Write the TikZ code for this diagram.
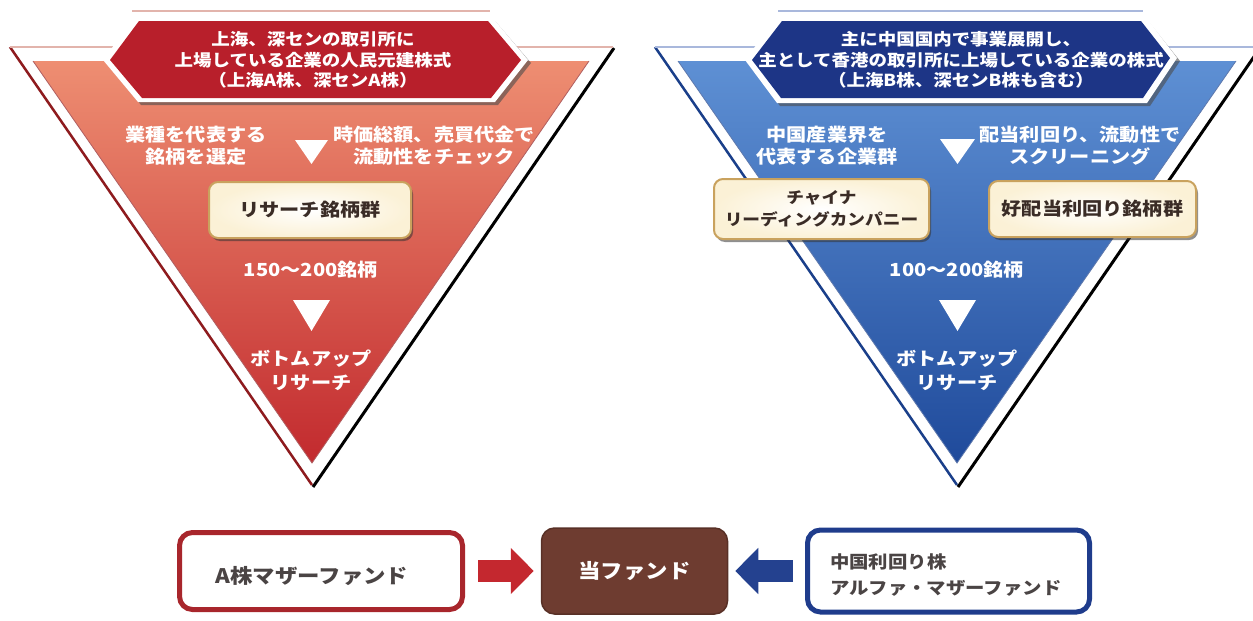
\documentclass[tikz,border=0pt]{standalone}
\usepackage{fontspec}
\setmainfont{Noto Sans CJK JP}
\newfontfamily\jp{Noto Sans CJK JP}[FakeStretch=1.12]
\usetikzlibrary{arrows.meta,shadows}
\definecolor{redTop}{HTML}{EE8E72}
\definecolor{redMid}{HTML}{DD5F4A}
\definecolor{redBot}{HTML}{C22A2E}
\definecolor{redEdge}{HTML}{8E1B1E}
\definecolor{hexRed}{HTML}{B81F2B}
\definecolor{pinkLine}{HTML}{E2B4AC}
\definecolor{blueTop}{HTML}{5E90D4}
\definecolor{blueMid}{HTML}{3A6EBD}
\definecolor{blueBot}{HTML}{1F4A9B}
\definecolor{blueEdge}{HTML}{1A3F8A}
\definecolor{hexBlue}{HTML}{1D3586}
\definecolor{blueLine}{HTML}{A9B8DC}
\definecolor{gold}{HTML}{C9A25E}
\definecolor{cream}{HTML}{FBF1D6}
\definecolor{brownF}{HTML}{6E3C30}
\definecolor{boxRed}{HTML}{A8262C}
\definecolor{boxBlue}{HTML}{1F3C8C}
\definecolor{arrRed}{HTML}{C4282F}
\definecolor{arrBlue}{HTML}{24418F}
\definecolor{darkText}{HTML}{3A2C26}
\definecolor{grayText}{HTML}{4A4444}
\begin{document}
\begin{tikzpicture}[x=1pt,y=-1pt,
  wlab/.style={text=white, font=\jp\bfseries\fontsize{18}{22}\selectfont, align=center, inner sep=0},
  hexlab/.style={text=white, font=\jp\bfseries\fontsize{16.5}{20.5}\selectfont, align=center, inner sep=0},
  ybox/.style={draw=gold, line width=2, rounded corners=9, inner color=white, outer color=cream,
     text=darkText, font=\jp\bfseries\fontsize{18}{22}\selectfont, align=center,
     drop shadow={shadow xshift=2pt, shadow yshift=-3pt, opacity=.55, fill=black!80}},
  fundbox/.style={line width=5, rounded corners=13, fill=white},
  fundtxt/.style={text=grayText, font=\jp\bfseries\fontsize{20}{27}\selectfont, inner sep=0},
  blockarrow/.style={line width=22, -{Triangle[length=23pt,width=45pt]}},
  downtri/.style={fill=white}
]
\useasboundingbox (0,0) rectangle (1253,621);

% ---------------- left triangle ----------------
\fill[white] (10,47) -- (613,47) -- (312,485) -- cycle;
\draw[redEdge, line width=2.5] (10,47) -- (312,485);
\draw[black, line width=3] (614,48) -- (313,487);
\draw[pinkLine, line width=2] (10,47) -- (613,47);
\shade[top color=redTop, middle color=redMid, bottom color=redBot] (33,61) -- (589,61) -- (312,463) -- cycle;
\draw[redEdge!70, line width=0.8] (33,61) -- (312,463) -- (589,61);
% hexagon
\draw[pinkLine, line width=2] (132,11) -- (490,11);
\fill[black!70, opacity=.6] (106,63) -- (138,21) -- (495,21) -- (531,63) -- (498,105) -- (141,105) -- cycle;
\fill[white] (103,60) -- (135,17) -- (492,17) -- (528,60) -- (495,102) -- (138,102) -- cycle;
\fill[hexRed] (110,60) -- (139,21) -- (488,21) -- (521,60) -- (491,98) -- (142,98) -- cycle;
\node[hexlab] (lhex) at (313,60) {上海、深センの取引所に\\上場している企業の人民元建株式\\（上海A株、深センA株）};
% labels
\node[wlab] (l1) at (196,146) {業種を代表する\\銘柄を選定};
\node[wlab] (l2) at (434,146) {時価総額、売買代金で\\流動性をチェック};
\fill[downtri] (295,140) -- (328,140) -- (311.5,164) -- cycle;
\node[ybox, minimum width=202, minimum height=56] (lbox) at (310,210) {リサーチ銘柄群};
\node[wlab] (l3) at (311,270) {150～200銘柄};
\fill[downtri] (293,300) -- (330,300) -- (311.5,331) -- cycle;
\node[wlab] (l4) at (311,370) {ボトムアップ\\[2pt]リサーチ};

% ---------------- right triangle ----------------
\fill[white] (655,47) -- (1259,47) -- (957,485) -- cycle;
\draw[blueEdge, line width=2.5] (655,47) -- (957,485);
\draw[black, line width=3] (1260,48) -- (958,487);
\draw[blueLine, line width=2] (655,47) -- (1259,47);
\shade[top color=blueTop, middle color=blueMid, bottom color=blueBot] (678,61) -- (1236,61) -- (957,463) -- cycle;
\draw[blueEdge!70, line width=0.8] (678,61) -- (957,463) -- (1236,61);
% hexagon
\draw[blueLine, line width=2] (778,11) -- (1143,11);
\fill[black!70, opacity=.6] (748,63) -- (781,21) -- (1148,21) -- (1180,61) -- (1150,106) -- (780,106) -- cycle;
\fill[white] (745,60) -- (778,16) -- (1145,16) -- (1177,58) -- (1147,103) -- (777,103) -- cycle;
\fill[hexBlue] (752,60) -- (782,21) -- (1141,21) -- (1170,58) -- (1143,98) -- (781,98) -- cycle;
\node[hexlab] (rhex) at (961,60) {主に中国国内で事業展開し、\\主として香港の取引所に上場している企業の株式\\（上海B株、深センB株も含む）};
% labels
\node[wlab] (r1) at (827,146) {中国産業界を\\代表する企業群};
\node[wlab] (r2) at (1080,146) {配当利回り、流動性で\\スクリーニング};
\fill[downtri] (940,139) -- (975,139) -- (957.5,164) -- cycle;
\node[ybox, minimum width=215, minimum height=60, font=\jp\bfseries\fontsize{15.8}{22}\selectfont] (rbox1) at (821.5,209) {チャイナ\\リーディングカンパニー};
\node[ybox, minimum width=207, minimum height=56] (rbox2) at (1092.5,209) {好配当利回り銘柄群};
\node[wlab] (r3) at (957,270) {100～200銘柄};
\fill[downtri] (939,300) -- (976,300) -- (957.5,331) -- cycle;
\node[wlab] (r4) at (957,370) {ボトムアップ\\[2pt]リサーチ};

% ---------------- bottom ----------------
\node[fundbox, draw=boxRed, minimum width=283, minimum height=77] (afund) at (321,571) {};
\node[fundtxt] (afundtxt) at (312,576) {A株マザーファンド};
\node[fundbox, draw=brownF!80!black, line width=1.5, fill=brownF, text=white,
      font=\jp\bfseries\fontsize{20}{26}\selectfont, minimum width=186, minimum height=86] (fund) at (634.5,571) {当ファンド};
\node[fundbox, draw=boxBlue, minimum width=282, minimum height=82] (bfund) at (948.5,571) {};
\node[fundtxt, align=left, anchor=west, font=\jp\bfseries\fontsize{17.3}{26}\selectfont] (bfundtxt) at (830,575) {中国利回り株\\アルファ・マザーファンド};
\draw[blockarrow, arrRed] ([xshift=13pt]afund.east) -- ([xshift=-7pt]fund.west);
\draw[blockarrow, arrBlue] ([xshift=-12pt]bfund.west) -- ([xshift=7pt]fund.east);
\end{tikzpicture}
\end{document}
